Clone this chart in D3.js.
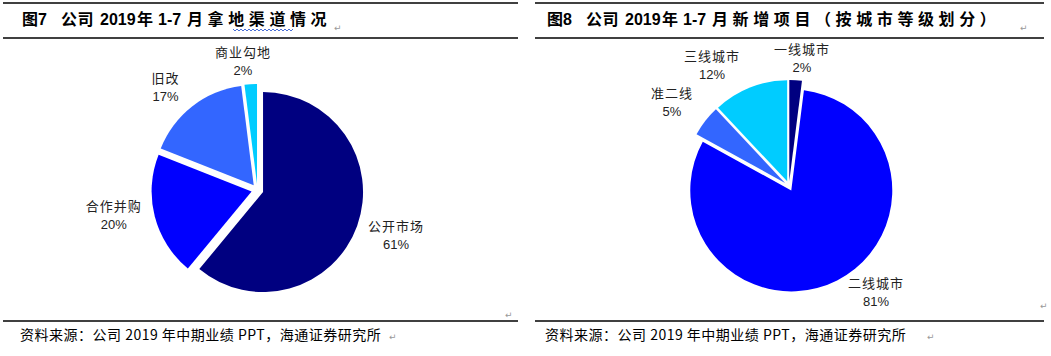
<!DOCTYPE html>
<html><head><meta charset="utf-8">
<script src="https://cdn.jsdelivr.net/npm/d3@7"></script>
<style>body{margin:0;background:#fff}svg{display:block}</style>
</head><body><svg id="c" width="1051" height="356"></svg>
<script>
// ---- data ----
const leftCategories = ["公开市场", "合作并购", "旧改", "商业勾地"];
const leftValues = [61, 20, 17, 2];
const rightCategories = ["一线城市", "二线城市", "准二线", "三线城市"];
const rightValues = [2, 81, 5, 12];
const leftTitleParts = ["图7", "公司", "2019", "年", "1-7", "月拿地渠道情况"];
const rightTitleParts = ["图8", "公司", "2019", "年", "1-7", "月新增项目（按城市等级划分）"];
const sourceText = "资料来源：公司 2019 年中期业绩 PPT，海通证券研究所";

// ---- layout / style ----
const colors = ["#000080", "#0000FF", "#3366FF", "#00CCFF"];
const CJK = "'Noto Sans CJK SC', 'Noto Sans', sans-serif";
const LAT = "'Liberation Sans', Arial, sans-serif";
const svg = d3.select("#c");

const panels = [
  {x0: 3, x1: 518, tx: 0, cats: leftCategories, vals: leftValues, title: leftTitleParts,
   cx: 257.4, cy: 190, r: 100, explode: 6, labelR: 140,
   nudges: [[7, -2.4], [-8, -9.3], [-6, 7.6], [-5.6, 10.7]],
   titleRet: 334, srcRet: 389, wavy: [233, 290]},
  {x0: 535, x1: 1044, tx: 525, cats: rightCategories, vals: rightValues, title: rightTitleParts,
   cx: 789, cy: 186, r: 101, explode: 5, labelR: 140,
   nudges: [[4.2, 12.2], [23.4, -18.7], [-6.4, 2.3], [-25.5, 9.2]],
   titleRet: 1020, srcRet: 927, wavy: null}
];
const titleOffsets = [22, 61, 100, 137, 158, 187];
const titleSpacing = [0, 0.5, 0, 0, 0, 4.6];

panels.forEach(p => {
  // rules
  [3, 38, 321].forEach(y => {
    svg.append("line").attr("x1", p.x0).attr("x2", p.x1).attr("y1", y).attr("y2", y)
      .attr("stroke", "#000").attr("stroke-width", 1.5);
  });
  // title
  const t = svg.append("text").attr("y", 25).attr("font-weight", "bold").attr("fill", "#000");
  p.title.forEach((s, i) => {
    const isLat = /^[0-9\-]+$/.test(s);
    const ts = t.append("tspan").attr("x", p.tx + titleOffsets[i])
      .attr("font-family", isLat ? LAT : CJK)
      .attr("font-size", 16)
      .attr("letter-spacing", titleSpacing[i]);
    if (i === 0) {
      ts.text(s[0]);
      t.append("tspan").attr("font-family", LAT).attr("font-size", 16).text(s.slice(1));
    } else if (i === p.title.length - 1) {
      // keep spacing between glyphs only (no trailing space)
      ts.text(s.slice(0, -1));
      t.append("tspan").attr("font-family", CJK).attr("font-size", 16)
        .attr("letter-spacing", 0).text(s.slice(-1));
    } else ts.text(s);
  });
  svg.append("text").attr("x", p.titleRet).attr("y", 31).attr("font-size", 9)
    .attr("fill", "#999").attr("font-family", "DejaVu Sans").text("↵");
  if (p.wavy) {
    const path = d3.path();
    path.moveTo(p.wavy[0], 29);
    for (let x = p.wavy[0]; x < p.wavy[1]; x += 4) {
      path.lineTo(x + 2, 31); path.lineTo(x + 4, 29);
    }
    svg.append("path").attr("d", path.toString()).attr("fill", "none")
      .attr("stroke", "#4a6fd6").attr("stroke-width", 1);
  }
  // source
  svg.append("text").attr("x", p.tx + 20).attr("y", 340).attr("font-family", CJK)
    .attr("font-size", 14).attr("letter-spacing", 0.5).attr("fill", "#000").text(sourceText);
  svg.append("text").attr("x", p.srcRet).attr("y", 340).attr("font-size", 9)
    .attr("fill", "#999").attr("font-family", "DejaVu Sans").text("↵");

  // pie
  const pie = d3.pie().sort(null).value(d => d.v);
  const arcs = pie(p.cats.map((c, i) => ({c, v: p.vals[i]})));
  const arc = d3.arc().innerRadius(0).outerRadius(p.r);
  const g = svg.append("g").attr("transform", `translate(${p.cx},${p.cy})`);
  g.selectAll("path").data(arcs).join("path")
    .attr("transform", d => {
      const m = (d.startAngle + d.endAngle) / 2;
      return `translate(${p.explode * Math.sin(m)},${-p.explode * Math.cos(m)})`;
    })
    .attr("d", arc).attr("fill", (d, i) => colors[i]);
  arcs.forEach((d, i) => {
    const m = (d.startAngle + d.endAngle) / 2;
    const x = p.labelR * Math.sin(m) + p.nudges[i][0];
    const y = -p.labelR * Math.cos(m) + p.nudges[i][1];
    g.append("text").attr("x", x).attr("y", y - 9).attr("dy", "0.35em")
      .attr("text-anchor", "middle").attr("font-family", CJK).attr("font-size", 13)
      .attr("letter-spacing", 1).attr("fill", "#222").text(d.data.c);
    g.append("text").attr("x", x).attr("y", y + 9).attr("dy", "0.35em")
      .attr("text-anchor", "middle").attr("font-family", LAT).attr("font-size", 13)
      .attr("fill", "#222").text(d.data.v + "%");
  });
});
svg.append("text").attr("x", 505).attr("y", 318).attr("font-size", 9)
  .attr("fill", "#999").attr("font-family", "DejaVu Sans").text("↵");
svg.append("text").attr("x", 1040).attr("y", 309).attr("font-size", 9)
  .attr("fill", "#999").attr("font-family", "DejaVu Sans").text("↵");
</script></body></html>
